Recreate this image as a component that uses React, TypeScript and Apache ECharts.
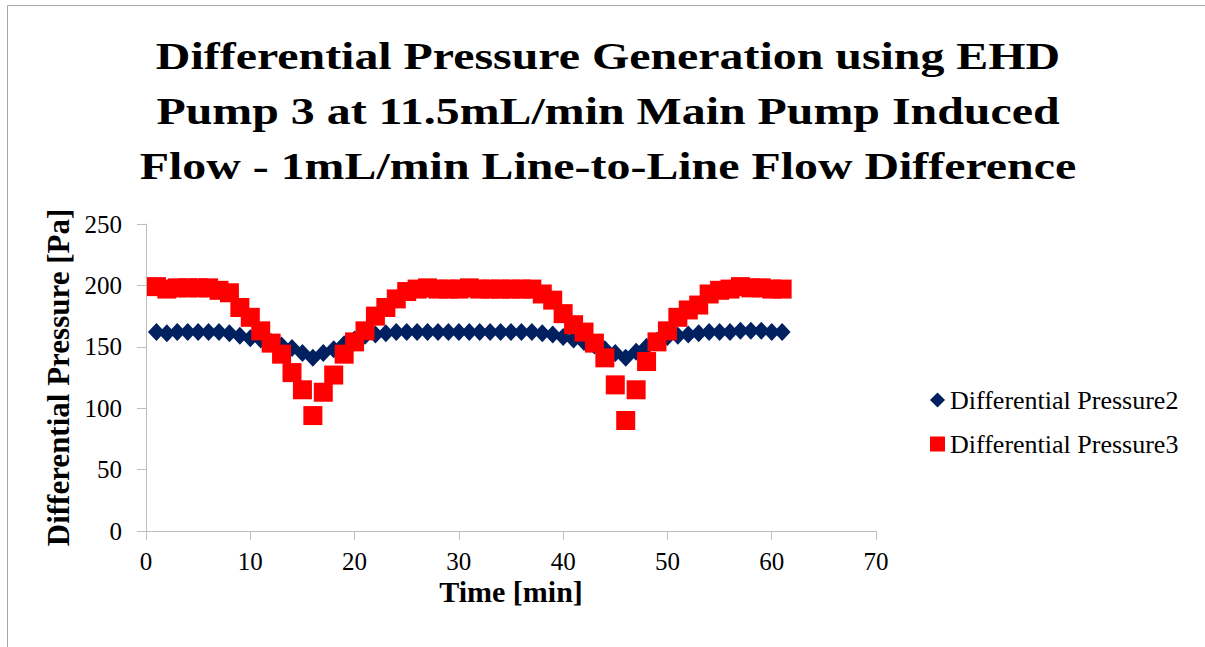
import React, { useEffect, useRef } from "react";
import * as echarts from "echarts";

const times = Array.from({ length: 61 }, (_, i) => i + 1);

const pressure2 = [
  162, 161, 162, 162, 162, 162, 162, 161, 159, 157,
  156, 154, 151, 149, 145, 141, 145, 148, 152, 156,
  159, 160, 161, 162, 162, 162, 162, 162, 162, 162,
  162, 162, 162, 162, 162, 162, 162, 161, 160, 158,
  156, 154, 151, 148, 145, 141, 146, 150, 155, 158,
  159, 160, 161, 162, 162, 162, 163, 163, 163, 162,
  162,
];

const pressure3 = [
  199, 197, 198, 198, 198, 198, 196, 194, 182, 174,
  163, 153, 144, 129, 115, 94, 113, 127, 144, 154,
  163, 175, 182, 189, 195, 197, 198, 197, 197, 197,
  198, 197, 197, 197, 197, 197, 197, 193, 188, 177,
  168, 162, 153, 141, 119, 90, 115, 138, 154, 163,
  174, 180, 184, 193, 196, 197, 199, 198, 198, 197,
  197,
];

const xTicks = [0, 10, 20, 30, 40, 50, 60, 70];

const titleLines = [
  "Differential Pressure Generation using EHD",
  "Pump 3 at 11.5mL/min Main Pump Induced",
  "Flow - 1mL/min Line-to-Line Flow Difference",
];

export default function App() {
  const ref = useRef<HTMLDivElement>(null);
  useEffect(() => {
    if (!ref.current) return;
    const chart = echarts.init(ref.current, null, { renderer: "svg" });
    const serif = "'Liberation Serif', 'Times New Roman', serif";
    const s2 = times.map((t, i) => [t, pressure2[i]]);
    const s3 = times.map((t, i) => [t, pressure3[i]]);
    const titleY = [56, 110.5, 165.5];
    chart.setOption({
      animation: false,
      backgroundColor: "#ffffff",
      textStyle: { fontFamily: serif },
      graphic: [
        {
          type: "polyline",
          silent: true,
          shape: { points: [[7.5, 647], [7.5, 5.5], [1205, 5.5]] },
          style: { stroke: "#a6a6a6", lineWidth: 1, fill: "none" },
        },
        ...titleLines.map((line, i) => ({
          type: "text",
          x: 608,
          y: titleY[i],
          scaleX: 1.26,
          style: {
            text: line,
            font: `bold 38px ${serif}`,
            fill: "#000",
            textAlign: "center",
            textVerticalAlign: "middle",
          },
        })),
      ],
      legend: {
        orient: "vertical",
        left: 930,
        top: 387,
        padding: 0,
        itemWidth: 15,
        itemHeight: 15,
        itemGap: 18,
        textStyle: { fontFamily: serif, fontSize: 26, lineHeight: 26, color: "#000" },
        data: [
          { name: "Differential Pressure2", icon: "diamond" },
          { name: "Differential Pressure3", icon: "rect" },
        ],
      },
      grid: { left: 146, right: 329, top: 224, bottom: 116, containLabel: false },
      xAxis: {
        type: "value",
        min: 0,
        max: 70,
        interval: 10,
        name: "Time [min]",
        nameLocation: "middle",
        nameGap: 45,
        nameTextStyle: { fontFamily: serif, fontWeight: "bold", fontSize: 30, color: "#000" },
        axisLine: { show: true, lineStyle: { color: "#bfbfbf", width: 1 } },
        axisTick: { show: true, length: 9, lineStyle: { color: "#bfbfbf" } },
        axisLabel: {
          fontFamily: serif,
          fontSize: 25,
          color: "#000",
          margin: 18,
          customValues: xTicks,
        },
        splitLine: { show: false },
      },
      yAxis: {
        type: "value",
        min: 0,
        max: 250,
        interval: 50,
        name: "Differential Pressure [Pa]",
        nameLocation: "middle",
        nameGap: 72,
        nameTextStyle: { fontFamily: serif, fontWeight: "bold", fontSize: 31, color: "#000" },
        axisLine: { show: true, lineStyle: { color: "#bfbfbf", width: 1 } },
        axisTick: { show: true, length: 9, lineStyle: { color: "#bfbfbf" } },
        axisLabel: { fontFamily: serif, fontSize: 25, color: "#000", margin: 24 },
        splitLine: { show: false },
      },
      series: [
        {
          name: "Differential Pressure2",
          type: "scatter",
          symbol: "diamond",
          symbolSize: [17, 18],
          itemStyle: { color: "#002060", opacity: 1 },
          data: s2,
          z: 2,
        },
        {
          name: "Differential Pressure3",
          type: "scatter",
          symbol: "rect",
          symbolSize: 19,
          itemStyle: { color: "#ff0000", opacity: 1 },
          data: s3,
          z: 3,
        },
      ],
    });
    return () => chart.dispose();
  }, []);
  return (
    <div
      ref={ref}
      style={{ position: "fixed", left: 0, top: 0, width: 1205, height: 647, background: "#fff" }}
    />
  );
}
